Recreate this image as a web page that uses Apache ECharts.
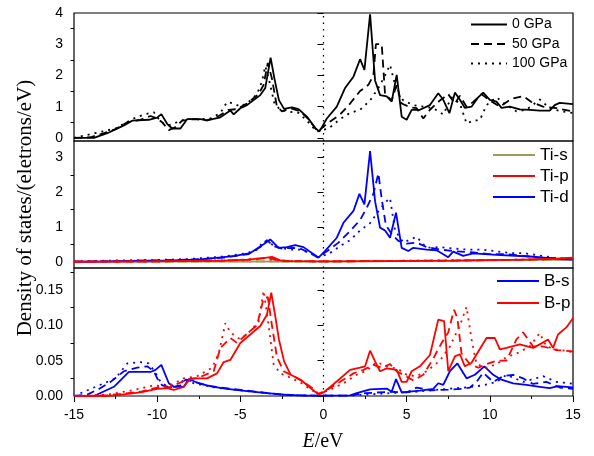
<!DOCTYPE html>
<html><head><meta charset="utf-8">
<script src="https://cdn.jsdelivr.net/npm/echarts@6/dist/echarts.min.js"></script>
<style>html,body{margin:0;padding:0;background:#fff}#c{width:594px;height:456px}</style>
</head><body><div id="c"></div>
<script>
// ---- Data: [E (eV), DOS] ----
const tot0 = [[-15,0],[-13.8,0],[-13,0.15],[-12,0.4],[-11.5,0.55],[-10.5,0.58],[-10,0.65],[-9.75,0.76],[-9.4,0.45],[-9.1,0.30],[-8.6,0.30],[-8.2,0.60],[-7.4,0.60],[-7.0,0.56],[-6.2,0.66],[-5.6,0.88],[-5.4,0.75],[-5.0,0.95],[-4.6,1.05],[-3.8,1.37],[-3.5,1.6],[-3.18,2.57],[-2.95,1.9],[-2.68,1.21],[-2.37,0.93],[-1.9,0.98],[-1.5,0.92],[-1.0,0.68],[-0.5,0.32],[-0.25,0.20],[0.2,0.62],[0.8,1.0],[1.3,1.6],[1.8,1.96],[2.2,2.52],[2.46,2.18],[2.8,3.96],[3.1,1.84],[3.4,1.37],[3.8,1.33],[4.1,1.16],[4.4,2.02],[4.7,0.68],[5.0,0.58],[5.3,0.9],[5.8,0.9],[6.4,1.05],[6.9,1.43],[7.2,1.22],[7.57,0.79],[7.9,1.45],[8.2,1.22],[8.5,0.96],[8.9,1.0],[9.3,1.3],[9.6,1.45],[10.0,1.22],[10.4,1.16],[10.7,0.96],[11.2,1.0],[11.8,0.91],[12.4,0.9],[13.0,0.87],[13.6,0.87],[13.9,1.05],[14.2,1.12],[15,1.08]];
const tot50 = [[-15,0],[-14,0.02],[-13.2,0.15],[-12.5,0.28],[-11.8,0.5],[-11,0.58],[-10.4,0.7],[-10.0,0.62],[-9.7,0.5],[-9.3,0.25],[-8.9,0.35],[-8.5,0.55],[-7.8,0.6],[-7,0.56],[-6.3,0.7],[-5.7,0.9],[-5.2,0.92],[-4.6,1.1],[-3.9,1.4],[-3.6,1.7],[-3.35,2.4],[-3.1,1.9],[-2.8,1.0],[-2.5,0.85],[-2,0.95],[-1.4,0.85],[-0.9,0.6],[-0.35,0.2],[0.2,0.45],[1,0.75],[1.6,1.1],[2.2,1.5],[2.7,1.7],[3.0,2.0],[3.15,3.0],[3.5,3.0],[3.7,1.4],[4.1,1.2],[4.4,1.7],[4.7,1.1],[5.2,0.98],[5.6,0.95],[6.0,0.62],[6.4,0.9],[7,1.2],[7.5,1.4],[7.9,1.1],[8.2,1.35],[8.6,1.0],[9.0,1.15],[9.5,1.4],[10,1.2],[10.6,1.0],[11.3,1.25],[12,1.34],[12.5,1.15],[13.2,1.0],[14,0.95],[15,0.85]];
const tot100 = [[-15,0],[-14.6,0.05],[-13.5,0.18],[-12.5,0.3],[-12,0.45],[-11.5,0.6],[-10.8,0.75],[-10.2,0.82],[-9.9,0.6],[-9.6,0.45],[-9.3,0.4],[-8.8,0.5],[-8.3,0.6],[-7.5,0.6],[-6.8,0.62],[-6.2,0.8],[-5.8,1.15],[-5.4,1.1],[-5,1.0],[-4.5,1.15],[-4,1.4],[-3.7,1.8],[-3.5,2.3],[-3.25,1.8],[-2.95,1.1],[-2.6,0.9],[-2.2,0.85],[-1.5,0.8],[-1.0,0.55],[-0.4,0.2],[0.3,0.3],[1.0,0.6],[1.6,0.8],[2.2,0.9],[2.8,1.2],[3.3,1.6],[3.7,2.0],[4.0,2.34],[4.4,1.5],[4.8,1.2],[5.4,1.05],[6.0,1.0],[6.6,0.95],[7.2,0.75],[7.7,1.3],[8.2,1.1],[8.6,0.46],[9.0,0.55],[9.4,0.57],[9.8,1.05],[10.4,1.3],[11,1.05],[11.6,0.85],[12.2,0.9],[13,1.23],[13.6,0.95],[14.3,0.85],[15,0.8]];

const tiS0 = [[-15,0],[-10,0.005],[-5,0.01],[0,0.005],[5,0.02],[10,0.04],[15,0.06]];
const tiS50 = [[-15,0],[-10,0.005],[-5,0.01],[0,0.005],[5,0.025],[10,0.045],[15,0.065]];
const tiS100 = [[-15,0],[-10,0.006],[-5,0.012],[0,0.006],[5,0.03],[10,0.05],[15,0.07]];
const tiP0 = [[-15,0],[-10,0.01],[-6,0.03],[-4.5,0.06],[-3.5,0.11],[-3.1,0.14],[-2.6,0.04],[-2,0.02],[0,0.01],[4,0.02],[8,0.03],[12,0.06],[14,0.09],[15,0.12]];
const tiP50 = [[-15,0],[-10,0.012],[-6,0.035],[-4.6,0.06],[-3.6,0.1],[-3.3,0.12],[-2.8,0.04],[-2,0.02],[0,0.01],[4,0.02],[8,0.035],[12,0.06],[14,0.08],[15,0.1]];
const tiP100 = [[-15,0],[-10,0.014],[-6,0.04],[-4.8,0.06],[-3.8,0.09],[-3.5,0.11],[-3.0,0.04],[-2,0.02],[0,0.01],[4,0.025],[8,0.04],[12,0.06],[14,0.08],[15,0.09]];
const tiD0 = [[-15,0],[-13,0.01],[-11,0.03],[-9,0.04],[-7.4,0.07],[-5.4,0.16],[-4.4,0.25],[-3.6,0.5],[-3.2,0.64],[-2.7,0.40],[-2.2,0.42],[-1.7,0.48],[-1.2,0.42],[-0.7,0.25],[-0.3,0.12],[0.1,0.31],[0.8,0.69],[1.2,1.12],[1.8,1.46],[2.16,1.95],[2.46,1.65],[2.8,3.18],[3.1,1.74],[3.4,0.98],[3.7,0.9],[4.0,0.69],[4.36,1.41],[4.7,0.40],[5.1,0.31],[5.4,0.40],[6.2,0.35],[6.8,0.33],[7.5,0.13],[7.8,0.29],[8.4,0.17],[9.0,0.24],[10.4,0.2],[12.4,0.15],[14.4,0.07],[15,0.06]];
const tiD50 = [[-15,0],[-12,0.02],[-10,0.04],[-8,0.06],[-6,0.12],[-4.5,0.22],[-3.7,0.45],[-3.4,0.62],[-3.0,0.45],[-2.5,0.38],[-1.8,0.40],[-1.3,0.36],[-0.7,0.22],[-0.35,0.12],[0.2,0.3],[0.9,0.55],[1.6,0.88],[2.2,1.2],[2.6,1.55],[3.0,1.95],[3.3,2.54],[3.5,1.8],[3.75,1.05],[4.1,0.8],[4.5,0.6],[5.0,0.52],[5.6,0.55],[6.2,0.42],[7,0.35],[8,0.3],[9,0.27],[10,0.22],[11,0.22],[12,0.17],[13,0.12],[14,0.1],[15,0.08]];
const tiD100 = [[-15,0],[-14,0.02],[-12,0.04],[-10,0.05],[-8,0.08],[-6,0.15],[-4.6,0.25],[-4,0.35],[-3.6,0.6],[-3.3,0.55],[-2.8,0.42],[-2.0,0.35],[-1.4,0.35],[-0.8,0.25],[-0.4,0.12],[0.3,0.22],[1.0,0.45],[1.6,0.62],[2.2,0.9],[2.8,1.11],[3.3,1.45],[3.7,1.7],[4.0,1.83],[4.3,0.9],[4.8,0.55],[5.6,0.72],[6.2,0.4],[7,0.42],[7.8,0.38],[8.6,0.35],[9.5,0.35],[10.4,0.3],[11.2,0.25],[12,0.25],[13,0.18],[14,0.1],[15,0.08]];

const bS0 = [[-15,0],[-13.8,0],[-12.6,0.013],[-11.7,0.034],[-10.4,0.034],[-10.1,0.037],[-9.75,0.044],[-9.3,0.018],[-9.0,0.013],[-8.4,0.013],[-8.1,0.024],[-7.4,0.017],[-6.6,0.013],[-5.8,0.01],[-4.6,0.007],[-3.4,0.004],[-2.2,0.0015],[-1,0.0005],[1.6,0.001],[2.0,0.004],[2.8,0.0095],[3.8,0.0105],[4.1,0.006],[4.36,0.024],[4.7,0.005],[5.8,0.0076],[6.6,0.01],[6.9,0.018],[7.2,0.0156],[7.6,0.035],[8.05,0.046],[8.6,0.025],[9.1,0.03],[9.67,0.042],[10.2,0.03],[10.7,0.023],[11.4,0.018],[12.2,0.0156],[13.0,0.013],[13.6,0.011],[14.1,0.014],[14.6,0.013],[15,0.012]];
const bS50 = [[-15,0],[-14.2,0.002],[-13.5,0.01],[-12.8,0.02],[-12,0.035],[-11.2,0.04],[-10.6,0.042],[-10.2,0.035],[-10.0,0.025],[-9.7,0.015],[-9.2,0.012],[-8.6,0.015],[-8.3,0.023],[-7.8,0.02],[-6.8,0.014],[-5.5,0.01],[-4,0.006],[-2.5,0.002],[-1,0.0005],[1.5,0.0005],[2.5,0.004],[4,0.006],[5,0.005],[5.6,0.012],[6.5,0.008],[7.5,0.009],[8.3,0.01],[8.8,0.012],[9.2,0.02],[9.6,0.033],[10.2,0.02],[10.8,0.028],[11.4,0.03],[12,0.025],[12.6,0.017],[13.4,0.02],[14.2,0.012],[15,0.01]];
const bS100 = [[-15,0],[-14.5,0.005],[-13.5,0.015],[-12.5,0.025],[-11.8,0.046],[-11,0.048],[-10.5,0.046],[-10.1,0.033],[-9.8,0.02],[-9.3,0.012],[-8.6,0.015],[-8.4,0.025],[-7.8,0.018],[-6.5,0.012],[-5,0.008],[-3.5,0.004],[-2,0.001],[1.5,0.0005],[2.5,0.002],[4,0.004],[5.5,0.006],[6.5,0.008],[7.4,0.01],[8.5,0.012],[9.6,0.015],[10.4,0.02],[11,0.03],[12,0.02],[13.2,0.028],[14,0.02],[14.8,0.018],[15,0.017]];
const bP0 = [[-15,0],[-13,0],[-12.4,0.0012],[-11,0.005],[-10,0.01],[-9.4,0.011],[-9.0,0.0085],[-8.4,0.013],[-8.0,0.025],[-7.0,0.025],[-6.4,0.032],[-6.0,0.048],[-5.6,0.051],[-5.0,0.075],[-4.4,0.087],[-3.8,0.099],[-3.4,0.115],[-3.14,0.146],[-2.88,0.11],[-2.68,0.08],[-2.37,0.049],[-1.97,0.03],[-1.37,0.023],[-0.87,0.013],[-0.3,0.002],[0.0,0.005],[0.6,0.0166],[1.6,0.037],[2.2,0.04],[2.5,0.042],[2.8,0.064],[3.1,0.049],[3.4,0.035],[3.8,0.039],[4.4,0.037],[4.7,0.02],[5.0,0.02],[5.3,0.035],[5.8,0.042],[6.4,0.058],[6.9,0.108],[7.25,0.106],[7.5,0.035],[7.9,0.056],[8.2,0.059],[8.5,0.042],[8.9,0.047],[9.8,0.082],[10.3,0.082],[10.6,0.066],[11.0,0.068],[11.8,0.073],[12.6,0.068],[13.0,0.073],[13.5,0.08],[13.8,0.068],[14.1,0.087],[14.6,0.097],[15,0.11]];
const bP50 = [[-15,0],[-13,0.001],[-11,0.006],[-10,0.012],[-9.3,0.012],[-8.7,0.018],[-8.3,0.022],[-7.5,0.026],[-6.6,0.035],[-6.2,0.068],[-5.6,0.082],[-5.2,0.075],[-4.6,0.088],[-4,0.1],[-3.6,0.138],[-3.35,0.14],[-3.1,0.1],[-2.8,0.055],[-2.4,0.035],[-1.8,0.028],[-1.2,0.02],[-0.6,0.01],[-0.3,0.003],[0.3,0.01],[1,0.02],[1.8,0.032],[2.4,0.037],[3,0.044],[3.5,0.04],[4.0,0.045],[4.4,0.035],[4.8,0.03],[5.4,0.022],[6.0,0.03],[6.6,0.053],[7.1,0.075],[7.5,0.09],[7.85,0.122],[8.05,0.11],[8.3,0.06],[8.8,0.045],[9.3,0.04],[9.8,0.045],[10.4,0.05],[11,0.05],[11.6,0.08],[12,0.09],[12.6,0.07],[13.2,0.07],[14,0.065],[15,0.063]];
const bP100 = [[-15,0],[-13,0.002],[-11.5,0.008],[-10.2,0.015],[-9.4,0.013],[-8.8,0.02],[-8.4,0.025],[-7.6,0.028],[-6.7,0.04],[-6.3,0.06],[-5.9,0.103],[-5.6,0.09],[-5.0,0.08],[-4.4,0.092],[-3.9,0.105],[-3.6,0.149],[-3.3,0.1],[-3.0,0.045],[-2.6,0.032],[-2,0.026],[-1.3,0.018],[-0.7,0.008],[-0.3,0.003],[0.3,0.008],[1.2,0.018],[2,0.03],[2.6,0.036],[3.2,0.048],[3.8,0.042],[4.5,0.038],[5.0,0.03],[5.6,0.028],[6.2,0.035],[7,0.05],[7.6,0.07],[8.2,0.1],[8.6,0.126],[8.9,0.08],[9.2,0.045],[9.8,0.04],[10.4,0.045],[11,0.055],[11.6,0.06],[12.4,0.07],[13,0.089],[13.4,0.07],[14,0.066],[15,0.062]];

// ---- Tick labels ----
const xTicks = [-15,-10,-5,0,5,10,15];
const y1Major = [0,1,2,3,4], y1Minor = [0.5,1.5,2.5,3.5];
const y2Major = [0,1,2,3], y2Minor = [0.5,1.5,2.5];
const y3Major = [0,0.05,0.10,0.15], y3Minor = [0.025,0.075,0.125,0.175];

const pressures = ['0 GPa','50 GPa','100 GPa'];
const tiNames = ['Ti-s','Ti-p','Ti-d'];
const bNames = ['B-s','B-p'];

// ---- Styles ----
const SANS = '"Liberation Sans", Arial, sans-serif';
const SERIF = '"Liberation Serif", "Times New Roman", serif';
const dashTypes = ['solid',[8,5],[2,5]];
const LW = 1.8;
const grids = [
  {left:74, right:21, top:13, height:128},
  {left:74, right:21, top:141, height:127},
  {left:74, right:21, top:268, height:128}
];
const yRanges = [[-0.1,4],[-0.18,3.47],[0,0.181]];
const yMaj = [y1Major,y2Major,y3Major], yMin = [y1Minor,y2Minor,y3Minor];

const xAxes = grids.map((g,i)=>({
  type:'value', gridIndex:i, position:'bottom', min:-15, max:15, interval:5,
  axisLine:{show:false},
  axisTick:{show:i===2, length:6, lineStyle:{color:'#000',width:1}},
  minorTick:{show:i===2, splitNumber:2, length:3, lineStyle:{color:'#000',width:1}},
  axisLabel:{show:i===2, color:'#000', fontFamily:SANS, fontSize:14, margin:12},
  splitLine:{show:false}
}));
const yAxes = [];
grids.forEach((g,i)=>{
  yAxes.push({
    type:'value', gridIndex:i, position:'left', offset:0, min:yRanges[i][0], max:yRanges[i][1],
    axisLine:{show:false},
    axisTick:{show:true, length:6, customValues:yMaj[i], lineStyle:{color:'#000',width:1}},
    axisLabel:{show:true, customValues:yMaj[i], color:'#000', fontFamily:SANS, fontSize:14, margin:11,
      formatter: i===2 ? (v)=>v.toFixed(2) : (v)=>String(Math.round(v))},
    splitLine:{show:false}
  });
  yAxes.push({
    type:'value', gridIndex:i, position:'left', offset:0, min:yRanges[i][0], max:yRanges[i][1],
    axisLine:{show:false},
    axisTick:{show:true, length:3.5, customValues:yMin[i], lineStyle:{color:'#000',width:1}},
    axisLabel:{show:false},
    splitLine:{show:false}
  });
});

function line(name, data, gi, color, k, z){
  return {type:'line', name, data, xAxisIndex:gi, yAxisIndex:gi*2, symbol:'none', showSymbol:false,
    z: z||2, silent:true, lineStyle:{color, width:LW, type:dashTypes[k]}, itemStyle:{color}};
}
const series = [];
[tot0,tot50,tot100].forEach((d,k)=>series.push(line(pressures[k], d, 0, '#000', k)));
[tiS0,tiS50,tiS100].forEach((d,k)=>series.push(line('Ti-s', d, 1, '#9C9A5E', k)));
[tiD0,tiD50,tiD100].forEach((d,k)=>series.push(line('Ti-d', d, 1, '#0000FF', k)));
[tiP0,tiP50,tiP100].forEach((d,k)=>series.push(line('Ti-p', d, 1, '#FF0000', k)));
[bS0,bS50,bS100].forEach((d,k)=>series.push(line('B-s', d, 2, '#0000FF', k)));
[bP0,bP50,bP100].forEach((d,k)=>series.push(line('B-p', d, 2, '#FF0000', k)));
// Fermi level dotted line in each panel
grids.forEach((g,i)=>{
  series.push({type:'line', name:'EF'+i, data:[[0,yRanges[i][0]],[0,yRanges[i][1]]], xAxisIndex:i, yAxisIndex:i*2,
    symbol:'none', silent:true, z:1, lineStyle:{color:'#000', width:1.3, type:[1.5,5]}});
});

const hiddenSym = {color:'rgba(0,0,0,0)', borderColor:'rgba(0,0,0,0)', borderWidth:0, opacity:0};
const legendBase = {orient:'vertical', padding:0, selectedMode:false, itemStyle:hiddenSym};
const option = {
  animation:false,
  backgroundColor:'#fff',
  grid: grids.map(g=>Object.assign({show:true, borderColor:'#000', borderWidth:1.2, backgroundColor:'transparent'}, g)),
  xAxis: xAxes,
  yAxis: yAxes,
  legend:[
    Object.assign({}, legendBase, {data:pressures, left:470, top:17.5, itemWidth:36, itemHeight:14, itemGap:5.5, textStyle:{color:'#000', fontFamily:SANS, fontSize:14}}),
    Object.assign({}, legendBase, {data:tiNames, left:492, top:146.5, itemWidth:42, itemHeight:14, itemGap:4, textStyle:{color:'#000', fontFamily:SANS, fontSize:17}}),
    Object.assign({}, legendBase, {data:bNames, left:496, top:272.5, itemWidth:42, itemHeight:14, itemGap:5, textStyle:{color:'#000', fontFamily:SANS, fontSize:17}})
  ],
  graphic:[
    {type:'text', x:25, y:208, rotation:Math.PI/2, style:{text:'Density of states/(eletrons/eV)', font:'21px '+SERIF, fill:'#000', align:'center', verticalAlign:'middle'}},
    {type:'text', x:323, y:442, style:{text:'{i|E}/eV', font:'20px '+SERIF, fill:'#000', align:'center', verticalAlign:'middle',
      rich:{i:{fontStyle:'italic', fontFamily:SERIF, fontSize:20}}}}
  ],
  series
};
const chart = echarts.init(document.getElementById('c'), null, {renderer:'canvas'});
chart.setOption(option);
</script>
</body></html>
